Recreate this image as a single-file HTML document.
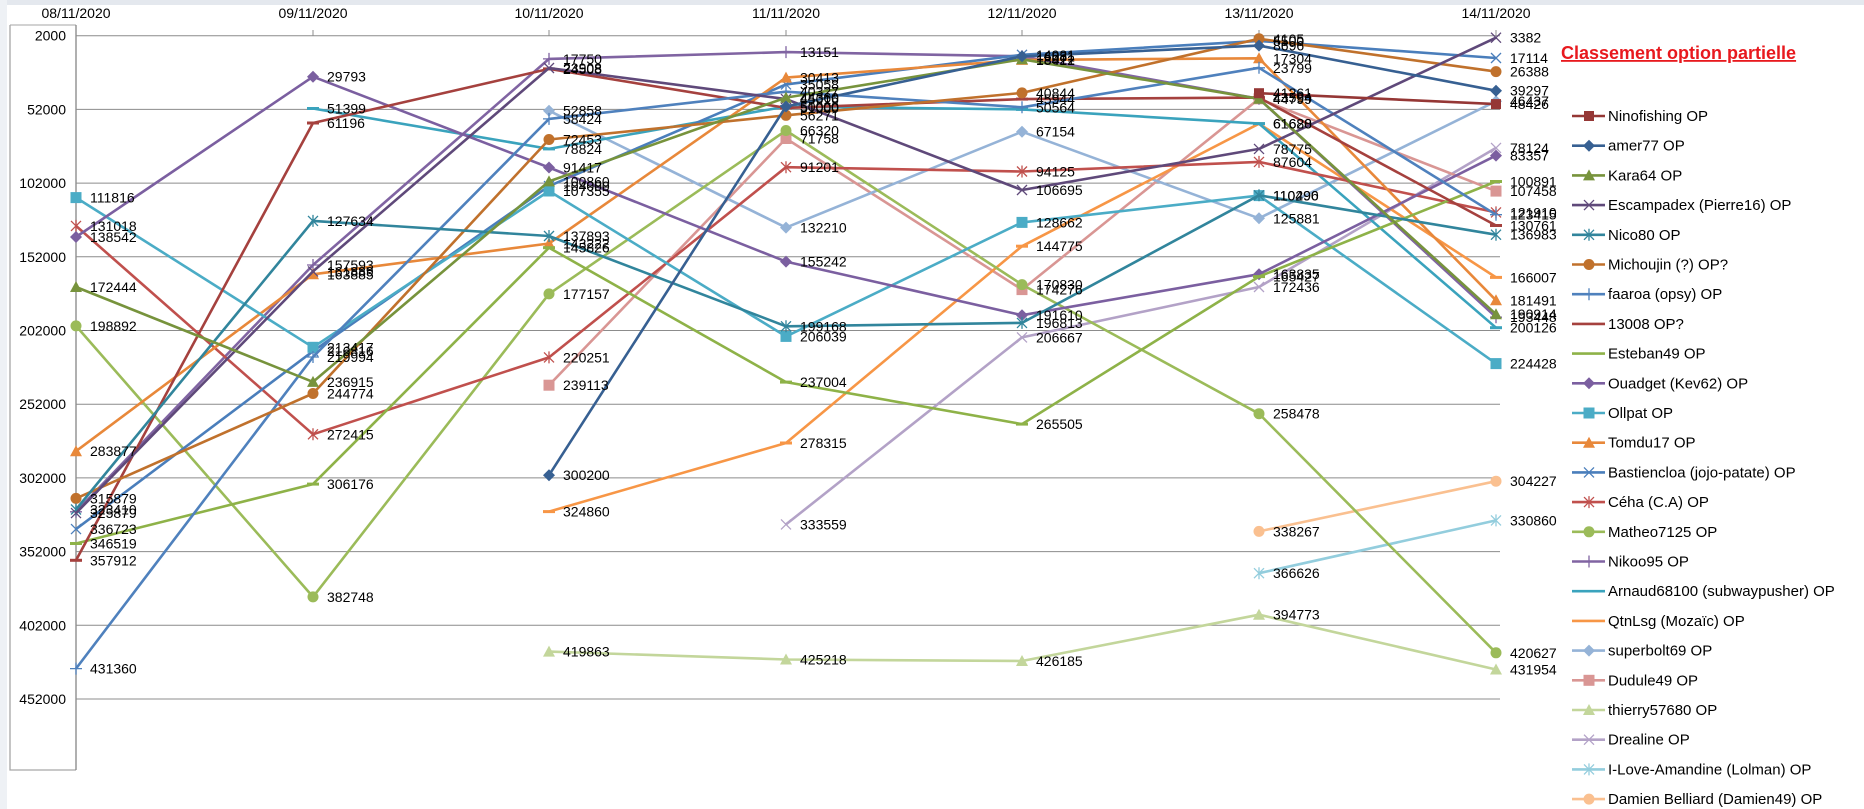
<!DOCTYPE html>
<html><head><meta charset="utf-8">
<style>
html,body{margin:0;padding:0;background:#fff;}
svg{display:block;font-family:"Liberation Sans",sans-serif;}
.l{font-size:14px;fill:#000;}
.ax{font-size:14px;fill:#000;}
.lg{font-size:15px;fill:#000;}
</style></head><body>
<svg width="1864" height="809" viewBox="0 0 1864 809" xmlns="http://www.w3.org/2000/svg">
<defs>
<marker id="m1" markerUnits="userSpaceOnUse" markerWidth="14" markerHeight="14" refX="7" refY="7"><rect x="2" y="2" width="10" height="10" fill="#953735"/></marker>
<marker id="m2" markerUnits="userSpaceOnUse" markerWidth="14" markerHeight="14" refX="7" refY="7"><polygon points="7,1 13,7 7,13 1,7" fill="#376092"/></marker>
<marker id="m3" markerUnits="userSpaceOnUse" markerWidth="14" markerHeight="14" refX="7" refY="7"><polygon points="7,1 13,12 1,12" fill="#77933C"/></marker>
<marker id="m4" markerUnits="userSpaceOnUse" markerWidth="14" markerHeight="14" refX="7" refY="7"><path d="M2,2L12,12M12,2L2,12" stroke="#5F497A" stroke-width="1.3" fill="none"/></marker>
<marker id="m5" markerUnits="userSpaceOnUse" markerWidth="14" markerHeight="14" refX="7" refY="7"><path d="M2,2L12,12M12,2L2,12M7,1V13" stroke="#31859C" stroke-width="1.3" fill="none"/></marker>
<marker id="m6" markerUnits="userSpaceOnUse" markerWidth="14" markerHeight="14" refX="7" refY="7"><circle cx="7" cy="7" r="5.5" fill="#C0712C"/></marker>
<marker id="m7" markerUnits="userSpaceOnUse" markerWidth="14" markerHeight="14" refX="7" refY="7"><path d="M7,1V13M1,7H13" stroke="#4F81BD" stroke-width="1.3" fill="none"/></marker>
<marker id="m8" markerUnits="userSpaceOnUse" markerWidth="14" markerHeight="14" refX="7" refY="7"><rect x="1" y="5.5" width="12" height="3" fill="#A5413E"/></marker>
<marker id="m9" markerUnits="userSpaceOnUse" markerWidth="14" markerHeight="14" refX="7" refY="7"><rect x="1" y="5.5" width="12" height="3" fill="#8EB248"/></marker>
<marker id="m10" markerUnits="userSpaceOnUse" markerWidth="14" markerHeight="14" refX="7" refY="7"><polygon points="7,1 13,7 7,13 1,7" fill="#7B5FA0"/></marker>
<marker id="m11" markerUnits="userSpaceOnUse" markerWidth="14" markerHeight="14" refX="7" refY="7"><rect x="1.5" y="1.5" width="11" height="11" fill="#4BACC6"/></marker>
<marker id="m12" markerUnits="userSpaceOnUse" markerWidth="14" markerHeight="14" refX="7" refY="7"><polygon points="7,1 13,12 1,12" fill="#E8883A"/></marker>
<marker id="m13" markerUnits="userSpaceOnUse" markerWidth="14" markerHeight="14" refX="7" refY="7"><path d="M2,2L12,12M12,2L2,12" stroke="#4A7EBB" stroke-width="1.3" fill="none"/></marker>
<marker id="m14" markerUnits="userSpaceOnUse" markerWidth="14" markerHeight="14" refX="7" refY="7"><path d="M2,2L12,12M12,2L2,12M7,1V13" stroke="#C0504D" stroke-width="1.3" fill="none"/></marker>
<marker id="m15" markerUnits="userSpaceOnUse" markerWidth="14" markerHeight="14" refX="7" refY="7"><circle cx="7" cy="7" r="5.5" fill="#9BBB59"/></marker>
<marker id="m16" markerUnits="userSpaceOnUse" markerWidth="14" markerHeight="14" refX="7" refY="7"><path d="M7,1V13M1,7H13" stroke="#8064A2" stroke-width="1.3" fill="none"/></marker>
<marker id="m17" markerUnits="userSpaceOnUse" markerWidth="14" markerHeight="14" refX="7" refY="7"><rect x="1" y="5.5" width="12" height="3" fill="#3AA3BD"/></marker>
<marker id="m18" markerUnits="userSpaceOnUse" markerWidth="14" markerHeight="14" refX="7" refY="7"><rect x="1" y="5.5" width="12" height="3" fill="#F79646"/></marker>
<marker id="m19" markerUnits="userSpaceOnUse" markerWidth="14" markerHeight="14" refX="7" refY="7"><polygon points="7,1 13,7 7,13 1,7" fill="#95B3D7"/></marker>
<marker id="m20" markerUnits="userSpaceOnUse" markerWidth="14" markerHeight="14" refX="7" refY="7"><rect x="1.5" y="1.5" width="11" height="11" fill="#D99694"/></marker>
<marker id="m21" markerUnits="userSpaceOnUse" markerWidth="14" markerHeight="14" refX="7" refY="7"><polygon points="7,1 13,12 1,12" fill="#C3D69B"/></marker>
<marker id="m22" markerUnits="userSpaceOnUse" markerWidth="14" markerHeight="14" refX="7" refY="7"><path d="M2,2L12,12M12,2L2,12" stroke="#B3A2C7" stroke-width="1.3" fill="none"/></marker>
<marker id="m23" markerUnits="userSpaceOnUse" markerWidth="14" markerHeight="14" refX="7" refY="7"><path d="M2,2L12,12M12,2L2,12M7,1V13" stroke="#93CDDD" stroke-width="1.3" fill="none"/></marker>
<marker id="m24" markerUnits="userSpaceOnUse" markerWidth="14" markerHeight="14" refX="7" refY="7"><circle cx="7" cy="7" r="5.5" fill="#FAC090"/></marker>
</defs>

<!-- spreadsheet edges -->
<rect x="0" y="0" width="1864" height="5" fill="#E4E8EE"/>
<rect x="0" y="0" width="7" height="809" fill="#EEF1F5"/>

<!-- frame -->
<path d="M10,25 V770 H76" stroke="#A6A6A6" fill="none" stroke-width="1.3"/>
<path d="M10,25 H76" stroke="#A6A6A6" fill="none" stroke-width="1"/>
<line x1="76" y1="25" x2="76" y2="770" stroke="#868686" stroke-width="1.3"/>

<!-- grid -->
<g stroke="#8C8C8C" stroke-width="1">
<line x1="76" y1="35.7" x2="1500" y2="35.7"/>
<line x1="76" y1="109.4" x2="1500" y2="109.4"/>
<line x1="76" y1="183.1" x2="1500" y2="183.1"/>
<line x1="76" y1="256.8" x2="1500" y2="256.8"/>
<line x1="76" y1="330.5" x2="1500" y2="330.5"/>
<line x1="76" y1="404.2" x2="1500" y2="404.2"/>
<line x1="76" y1="477.9" x2="1500" y2="477.9"/>
<line x1="76" y1="551.6" x2="1500" y2="551.6"/>
<line x1="76" y1="625.3" x2="1500" y2="625.3"/>
<line x1="76" y1="699" x2="1500" y2="699"/>
<line x1="313" y1="30" x2="313" y2="36"/><line x1="549" y1="30" x2="549" y2="36"/><line x1="786" y1="30" x2="786" y2="36"/><line x1="1022" y1="30" x2="1022" y2="36"/><line x1="1259" y1="30" x2="1259" y2="36"/><line x1="1496" y1="30" x2="1496" y2="36"/>
</g>

<g class="ax" text-anchor="end">
<text x="66" y="40.7">2000</text><text x="66" y="114.4">52000</text><text x="66" y="188.1">102000</text><text x="66" y="261.8">152000</text><text x="66" y="335.5">202000</text><text x="66" y="409.2">252000</text><text x="66" y="482.9">302000</text><text x="66" y="556.6">352000</text><text x="66" y="630.3">402000</text><text x="66" y="704">452000</text>
</g>
<g class="ax" text-anchor="middle">
<text x="76" y="18">08/11/2020</text><text x="313" y="18">09/11/2020</text><text x="549" y="18">10/11/2020</text><text x="786" y="18">11/11/2020</text><text x="1022" y="18">12/11/2020</text><text x="1259" y="18">13/11/2020</text><text x="1496" y="18">14/11/2020</text>
</g>

<!-- series -->
<g fill="none" stroke-width="2.6" stroke-linejoin="round">
<polyline stroke="#B3A2C7" marker-start="url(#m22)" marker-mid="url(#m22)" marker-end="url(#m22)" points="786,524.4 1022,337.4 1259,287 1496,147.9"/>
<polyline stroke="#C3D69B" marker-start="url(#m21)" marker-mid="url(#m21)" marker-end="url(#m21)" points="549,651.6 786,659.5 1022,661 1259,614.7 1496,669.5"/>
<polyline stroke="#93CDDD" marker-start="url(#m23)" marker-end="url(#m23)" points="1259,573.2 1496,520.4"/>
<polyline stroke="#FAC090" marker-start="url(#m24)" marker-end="url(#m24)" points="1259,531.4 1496,481.2"/>
<polyline stroke="#D99694" marker-start="url(#m20)" marker-mid="url(#m20)" marker-end="url(#m20)" points="549,385.2 786,138.5 1022,289.6 1259,98.8 1496,191.1"/>
<polyline stroke="#95B3D7" marker-start="url(#m19)" marker-mid="url(#m19)" marker-end="url(#m19)" points="549,110.7 786,227.6 1022,131.7 1259,218.3 1496,101.2"/>
<polyline stroke="#F79646" marker-start="url(#m18)" marker-mid="url(#m18)" marker-end="url(#m18)" points="549,511.6 786,443 1022,246.2 1259,123.7 1496,277.4"/>
<polyline stroke="#3AA3BD" marker-start="url(#m17)" marker-mid="url(#m17)" marker-end="url(#m17)" points="313,108.5 549,148.9 786,106.5 1022,109.4 1259,123.6 1496,327.7"/>
<polyline stroke="#8064A2" marker-start="url(#m16)" marker-mid="url(#m16)" marker-end="url(#m16)" points="76,511.8 313,265 549,58.9 786,52.1 1022,56.3 1259,98.8 1496,317.2"/>
<polyline stroke="#9BBB59" marker-start="url(#m15)" marker-mid="url(#m15)" marker-end="url(#m15)" points="76,325.9 313,596.9 549,293.9 786,130.5 1022,284.6 1259,413.7 1496,652.8"/>
<polyline stroke="#C0504D" marker-start="url(#m14)" marker-mid="url(#m14)" marker-end="url(#m14)" points="76,225.9 313,434.3 549,357.4 786,167.2 1022,171.5 1259,161.9 1496,212.4"/>
<polyline stroke="#4A7EBB" marker-start="url(#m13)" marker-mid="url(#m13)" marker-end="url(#m13)" points="76,529.1 313,351.2 549,186.1 786,84.4 1022,54.8 1259,40.9 1496,58"/>
<polyline stroke="#E8883A" marker-start="url(#m12)" marker-mid="url(#m12)" marker-end="url(#m12)" points="76,451.2 313,274.3 549,243.5 786,77.6 1022,59.9 1259,58.3 1496,300.3"/>
<polyline stroke="#4BACC6" marker-start="url(#m11)" marker-mid="url(#m11)" marker-end="url(#m11)" points="76,197.6 313,347.3 549,191 786,336.4 1022,222.4 1259,195.6 1496,363.6"/>
<polyline stroke="#7B5FA0" marker-start="url(#m10)" marker-mid="url(#m10)" marker-end="url(#m10)" points="76,237 313,76.7 549,167.5 786,261.6 1022,315.2 1259,274.2 1496,155.6"/>
<polyline stroke="#8EB248" marker-start="url(#m9)" marker-mid="url(#m9)" marker-end="url(#m9)" points="76,543.5 313,484.1 549,247.7 786,382.1 1022,424.1 1259,276.6 1496,181.5"/>
<polyline stroke="#A5413E" marker-start="url(#m8)" marker-mid="url(#m8)" marker-end="url(#m8)" points="76,560.3 313,123 549,68.9 786,107.9 1022,99.1 1259,97.6 1496,225.5"/>
<polyline stroke="#4F81BD" marker-start="url(#m7)" marker-mid="url(#m7)" marker-end="url(#m7)" points="76,668.6 313,357 549,118.9 786,91.7 1022,107.3 1259,67.8 1496,214.7"/>
<polyline stroke="#C0712C" marker-start="url(#m6)" marker-mid="url(#m6)" marker-end="url(#m6)" points="76,498.4 313,393.5 549,139.5 786,115.3 1022,92.9 1259,38.8 1496,71.6"/>
<polyline stroke="#31859C" marker-start="url(#m5)" marker-mid="url(#m5)" marker-end="url(#m5)" points="76,509.5 313,220.9 549,236 786,326.3 1022,322.9 1259,195.3 1496,234.7"/>
<polyline stroke="#5F497A" marker-start="url(#m4)" marker-mid="url(#m4)" marker-end="url(#m4)" points="76,513.1 313,271.4 549,68 786,99.1 1022,190 1259,148.9 1496,37.7"/>
<polyline stroke="#77933C" marker-start="url(#m3)" marker-mid="url(#m3)" marker-end="url(#m3)" points="76,287 313,381.9 549,181.4 786,97.6 1022,59.3 1259,98.8 1496,314.2"/>
<polyline stroke="#376092" marker-start="url(#m2)" marker-mid="url(#m2)" marker-end="url(#m2)" points="549,475.2 786,106.5 1022,56.3 1259,45.6 1496,90.7"/>
<polyline stroke="#953735" marker-start="url(#m1)" marker-end="url(#m1)" points="1259,93.2 1496,104.1"/>
</g>

<!-- data labels -->
<g class="l">
<!-- 08/11 -->
<text x="90" y="202.6">111816</text><text x="90" y="230.9">131018</text><text x="90" y="242">138542</text><text x="90" y="292">172444</text><text x="90" y="330.9">198892</text><text x="90" y="456.2">283877</text><text x="90" y="503.4">315879</text><text x="90" y="514.5">323410</text><text x="90" y="518.1">325879</text><text x="90" y="534.1">336723</text><text x="90" y="548.5">346519</text><text x="90" y="565.3">357912</text><text x="90" y="673.6">431360</text>
<!-- 09/11 -->
<text x="327" y="81.7">29793</text><text x="327" y="113.5">51399</text><text x="327" y="128">61196</text><text x="327" y="225.9">127634</text><text x="327" y="270">157593</text><text x="327" y="276.4">161889</text><text x="327" y="279.3">163885</text><text x="327" y="352.3">213417</text><text x="327" y="356.2">216816</text><text x="327" y="362">219994</text><text x="327" y="386.9">236915</text><text x="327" y="398.5">244774</text><text x="327" y="439.3">272415</text><text x="327" y="489.1">306176</text><text x="327" y="601.9">382748</text>
<!-- 10/11 -->
<text x="563" y="63.9">17750</text><text x="563" y="73">23908</text><text x="563" y="73.9">24508</text><text x="563" y="115.7">52858</text><text x="563" y="123.9">58424</text><text x="563" y="144.5">72453</text><text x="563" y="153.9">78824</text><text x="563" y="172.5">91417</text><text x="563" y="186.4">100860</text><text x="563" y="191.1">104000</text><text x="563" y="196">107355</text><text x="563" y="241">137893</text><text x="563" y="248.5">143222</text><text x="563" y="252.7">145826</text><text x="563" y="298.9">177157</text><text x="563" y="362.4">220251</text><text x="563" y="390.2">239113</text><text x="563" y="480.2">300200</text><text x="563" y="516.6">324860</text><text x="563" y="656.6">419863</text>
<!-- 11/11 -->
<text x="800" y="57.1">13151</text><text x="800" y="82.6">30413</text><text x="800" y="89.4">35058</text><text x="800" y="96.7">40327</text><text x="800" y="102.6">44360</text><text x="800" y="104.1">45016</text><text x="800" y="111.5">50000</text><text x="800" y="112.9">51000</text><text x="800" y="120.3">56271</text><text x="800" y="135.5">66320</text><text x="800" y="143.5">71758</text><text x="800" y="172.2">91201</text><text x="800" y="232.6">132210</text><text x="800" y="266.6">155242</text><text x="800" y="331.3">199168</text><text x="800" y="341.4">206039</text><text x="800" y="387.1">237004</text><text x="800" y="448">278315</text><text x="800" y="529.4">333559</text><text x="800" y="664.5">425218</text>
<!-- 12/11 -->
<text x="1036" y="59.8">14931</text><text x="1036" y="61.3">16081</text><text x="1036" y="64.3">18021</text><text x="1036" y="64.9">18412</text><text x="1036" y="97.9">40844</text><text x="1036" y="104.1">45944</text><text x="1036" y="112.3">50564</text><text x="1036" y="136.7">67154</text><text x="1036" y="176.5">94125</text><text x="1036" y="195">106695</text><text x="1036" y="227.4">128662</text><text x="1036" y="251.2">144775</text><text x="1036" y="289.6">170830</text><text x="1036" y="294.6">174276</text><text x="1036" y="320.2">191610</text><text x="1036" y="327.9">196813</text><text x="1036" y="342.4">206667</text><text x="1036" y="429.1">265505</text><text x="1036" y="666">426185</text>
<!-- 13/11 -->
<text x="1273" y="43.8">4105</text><text x="1273" y="45.9">5500</text><text x="1273" y="50.6">8696</text><text x="1273" y="63.3">17304</text><text x="1273" y="72.8">23799</text><text x="1273" y="98.2">41261</text><text x="1273" y="102.6">43594</text><text x="1273" y="103.8">44799</text><text x="1273" y="128.6">61628</text><text x="1273" y="128.7">61680</text><text x="1273" y="153.9">78775</text><text x="1273" y="166.9">87604</text><text x="1273" y="200.3">110296</text><text x="1273" y="200.6">110490</text><text x="1273" y="223.3">125881</text><text x="1273" y="279.2">163835</text><text x="1273" y="281.6">165427</text><text x="1273" y="292">172436</text><text x="1273" y="418.7">258478</text><text x="1273" y="536.4">338267</text><text x="1273" y="578.2">366626</text><text x="1273" y="619.7">394773</text>
<!-- 14/11 -->
<text x="1510" y="42.7">3382</text><text x="1510" y="63">17114</text><text x="1510" y="76.6">26388</text><text x="1510" y="95.7">39297</text><text x="1510" y="106.2">46437</text><text x="1510" y="109.1">48426</text><text x="1510" y="152.9">78124</text><text x="1510" y="160.6">83357</text><text x="1510" y="186.5">100891</text><text x="1510" y="196.1">107458</text><text x="1510" y="217.4">121910</text><text x="1510" y="219.7">123415</text><text x="1510" y="230.5">130761</text><text x="1510" y="239.7">136983</text><text x="1510" y="282.4">166007</text><text x="1510" y="305.3">181491</text><text x="1510" y="319.2">190914</text><text x="1510" y="322.2">193448</text><text x="1510" y="332.7">200126</text><text x="1510" y="368.6">224428</text><text x="1510" y="486.2">304227</text><text x="1510" y="525.4">330860</text><text x="1510" y="657.8">420627</text><text x="1510" y="674.5">431954</text>
</g>

<!-- title -->
<text x="1561" y="59" font-size="18" font-weight="bold" fill="#E8191E" text-decoration="underline">Classement option partielle</text>

<!-- legend -->
<g fill="none" stroke-width="2.6">
<polyline stroke="#953735" marker-mid="url(#m1)" points="1572,116 1589,116 1605,116"/>
<polyline stroke="#376092" marker-mid="url(#m2)" points="1572,145.7 1589,145.7 1605,145.7"/>
<polyline stroke="#77933C" marker-mid="url(#m3)" points="1572,175.4 1589,175.4 1605,175.4"/>
<polyline stroke="#5F497A" marker-mid="url(#m4)" points="1572,205.1 1589,205.1 1605,205.1"/>
<polyline stroke="#31859C" marker-mid="url(#m5)" points="1572,234.8 1589,234.8 1605,234.8"/>
<polyline stroke="#C0712C" marker-mid="url(#m6)" points="1572,264.5 1589,264.5 1605,264.5"/>
<polyline stroke="#4F81BD" marker-mid="url(#m7)" points="1572,294.2 1589,294.2 1605,294.2"/>
<polyline stroke="#A5413E" points="1572,323.9 1605,323.9"/>
<polyline stroke="#8EB248" points="1572,353.6 1605,353.6"/>
<polyline stroke="#7B5FA0" marker-mid="url(#m10)" points="1572,383.3 1589,383.3 1605,383.3"/>
<polyline stroke="#4BACC6" marker-mid="url(#m11)" points="1572,413 1589,413 1605,413"/>
<polyline stroke="#E8883A" marker-mid="url(#m12)" points="1572,442.7 1589,442.7 1605,442.7"/>
<polyline stroke="#4A7EBB" marker-mid="url(#m13)" points="1572,472.4 1589,472.4 1605,472.4"/>
<polyline stroke="#C0504D" marker-mid="url(#m14)" points="1572,502.1 1589,502.1 1605,502.1"/>
<polyline stroke="#9BBB59" marker-mid="url(#m15)" points="1572,531.8 1589,531.8 1605,531.8"/>
<polyline stroke="#8064A2" marker-mid="url(#m16)" points="1572,561.5 1589,561.5 1605,561.5"/>
<polyline stroke="#3AA3BD" points="1572,591.2 1605,591.2"/>
<polyline stroke="#F79646" points="1572,620.9 1605,620.9"/>
<polyline stroke="#95B3D7" marker-mid="url(#m19)" points="1572,650.6 1589,650.6 1605,650.6"/>
<polyline stroke="#D99694" marker-mid="url(#m20)" points="1572,680.3 1589,680.3 1605,680.3"/>
<polyline stroke="#C3D69B" marker-mid="url(#m21)" points="1572,710 1589,710 1605,710"/>
<polyline stroke="#B3A2C7" marker-mid="url(#m22)" points="1572,739.7 1589,739.7 1605,739.7"/>
<polyline stroke="#93CDDD" marker-mid="url(#m23)" points="1572,769.4 1589,769.4 1605,769.4"/>
<polyline stroke="#FAC090" marker-mid="url(#m24)" points="1572,799.1 1589,799.1 1605,799.1"/>
</g>
<g class="lg">
<text x="1608" y="121">Ninofishing OP</text>
<text x="1608" y="150.7">amer77 OP</text>
<text x="1608" y="180.4">Kara64  OP</text>
<text x="1608" y="210.1">Escampadex (Pierre16) OP</text>
<text x="1608" y="239.8">Nico80 OP</text>
<text x="1608" y="269.5">Michoujin (?) OP?</text>
<text x="1608" y="299.2">faaroa (opsy) OP</text>
<text x="1608" y="328.9">13008 OP?</text>
<text x="1608" y="358.6">Esteban49 OP</text>
<text x="1608" y="388.3">Ouadget (Kev62) OP</text>
<text x="1608" y="418">Ollpat OP</text>
<text x="1608" y="447.7">Tomdu17 OP</text>
<text x="1608" y="477.4">Bastiencloa (jojo-patate) OP</text>
<text x="1608" y="507.1">Céha (C.A) OP</text>
<text x="1608" y="536.8">Matheo7125 OP</text>
<text x="1608" y="566.5">Nikoo95 OP</text>
<text x="1608" y="596.2">Arnaud68100 (subwaypusher) OP</text>
<text x="1608" y="625.9">QtnLsg (Mozaïc) OP</text>
<text x="1608" y="655.6">superbolt69 OP</text>
<text x="1608" y="685.3">Dudule49 OP</text>
<text x="1608" y="715">thierry57680 OP</text>
<text x="1608" y="744.7">Drealine OP</text>
<text x="1608" y="774.4">I-Love-Amandine (Lolman) OP</text>
<text x="1608" y="804.1">Damien Belliard (Damien49) OP</text>
</g>
</svg>
</body></html>
